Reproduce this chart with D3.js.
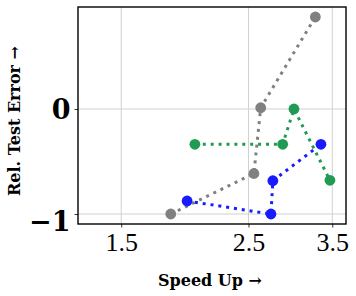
<!DOCTYPE html>
<html lang="en">
<head>
<meta charset="UTF-8">
<title>Speed up vs test error</title>
<script src="https://d3js.org/d3.v7.min.js"></script>
<style>
  body { margin: 0; background: #fff; }
  svg { display: block; }
</style>
</head>
<body>
<div id="plot"></div>
<script>
// series data (speed up, relative test error)
var grayX  = [1.83, 2.555, 2.626, 3.27];
var grayY  = [-1.0, -0.614, 0.012, 0.876];
var greenX = [2.016, 2.868, 3.001, 3.467];
var greenY = [-0.336, -0.336, 0.0, -0.679];
var blueX  = [1.954, 2.736, 2.757, 3.344];
var blueY  = [-0.876, -1.0, -0.683, -0.336];

var xTicks = [1.5, 2.5, 3.5];
var yTicks = [-1, 0];

var series = [
  {color: "#808080", x: grayX, y: grayY},
  {color: "#219b53", x: greenX, y: greenY},
  {color: "#1a1aff", x: blueX, y: blueY}
];

var W = 356, H = 296;
var margin = {top: 7, right: 10, bottom: 72, left: 78};
var width = W - margin.left - margin.right;
var height = H - margin.top - margin.bottom;

var x = d3.scaleLog().domain([1.261, 3.698]).range([0, width]);
var y = d3.scaleLinear().domain([-1.095, 0.971]).range([height, 0]);

var svg = d3.select("#plot").append("svg")
  .attr("width", W).attr("height", H);
var g = svg.append("g")
  .attr("transform", "translate(" + margin.left + "," + margin.top + ")");

// grid
g.append("g").selectAll("line").data(xTicks).enter().append("line")
  .attr("x1", d => x(d)).attr("x2", d => x(d))
  .attr("y1", 0).attr("y2", height)
  .attr("stroke", "#d0d0d0").attr("stroke-width", 1);
g.append("g").selectAll("line").data(yTicks).enter().append("line")
  .attr("y1", d => y(d)).attr("y2", d => y(d))
  .attr("x1", 0).attr("x2", width)
  .attr("stroke", "#d0d0d0").attr("stroke-width", 1);

// axes
var xAxis = g.append("g").attr("transform", "translate(0," + height + ")")
  .call(d3.axisBottom(x).tickValues(xTicks).tickFormat(d3.format(".1f")).tickSize(3.5).tickPadding(5));
var yAxis = g.append("g")
  .call(d3.axisLeft(y).tickValues(yTicks).tickFormat(d => d < 0 ? "\u22121" : "0").tickSize(3.5).tickPadding(4));

[xAxis, yAxis].forEach(function(a){
  a.select(".domain").remove();
  a.selectAll(".tick line").attr("stroke", "#000").attr("stroke-width", 0.8);
});
xAxis.selectAll("text")
  .attr("font-family", "Liberation Serif, serif")
  .attr("font-size", 26).attr("fill", "#000");
yAxis.selectAll("text")
  .attr("font-family", "DejaVu Serif, serif")
  .attr("font-weight", "bold")
  .attr("font-size", 27).attr("fill", "#000")
  .attr("dy", d => d < 0 ? "0.6em" : "0.36em");

// lines and markers
var line = d3.line().x(d => x(d[0])).y(d => y(d[1]));
series.forEach(function(s){
  var pts = s.x.map((v, i) => [v, s.y[i]]);
  g.append("path").datum(pts)
    .attr("d", line)
    .attr("fill", "none")
    .attr("stroke", s.color)
    .attr("stroke-width", 3)
    .attr("stroke-dasharray", "3,4.9");
  g.append("g").selectAll("circle").data(pts).enter().append("circle")
    .attr("cx", d => x(d[0])).attr("cy", d => y(d[1]))
    .attr("r", 5.4).attr("fill", s.color);
});

// frame
g.append("rect").attr("width", width).attr("height", height)
  .attr("fill", "none").attr("stroke", "#000").attr("stroke-width", 1.4);

// axis labels
svg.append("text")
  .attr("x", 210).attr("y", 286)
  .attr("text-anchor", "middle")
  .attr("font-family", "DejaVu Serif, serif").attr("font-weight", "bold")
  .attr("font-size", 16)
  .text("Speed Up \u2192");
svg.append("text")
  .attr("transform", "translate(20,121) rotate(-90)")
  .attr("text-anchor", "middle")
  .attr("font-family", "DejaVu Serif, serif").attr("font-weight", "bold")
  .attr("font-size", 16)
  .text("Rel. Test Error \u2192");
</script>
</body>
</html>
